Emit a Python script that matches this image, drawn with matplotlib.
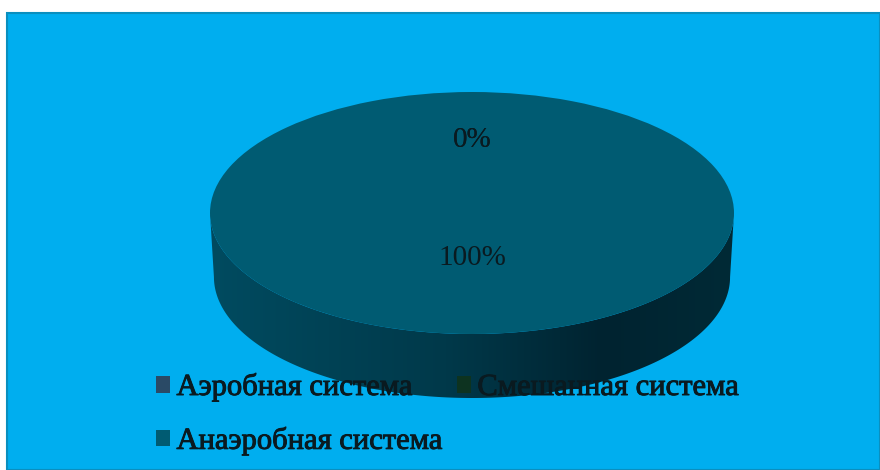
import numpy as np
import matplotlib
matplotlib.use("Agg")
import matplotlib.pyplot as plt
import matplotlib.patheffects as pe
from matplotlib.patches import Rectangle, Polygon, Patch
from matplotlib.colors import LinearSegmentedColormap

# Data
categories = ["Аэробная система", "Смешанная система", "Анаэробная система"]
values = [0, 0, 100]
colors = ["#2a4a66", "#0d3320", "#005b72"]

W, H = 880, 470
fig = plt.figure(figsize=(W / 100, H / 100), dpi=100)
fig.patch.set_facecolor("white")

# Canvas axes in pixel coordinates
base = fig.add_axes([0, 0, 1, 1])
base.set_xlim(0, W)
base.set_ylim(H, 0)
base.axis("off")

# Blue chart area with a thin darker border
base.add_patch(Rectangle((7, 13), W - 7, H - 13, facecolor="#00aeef",
                         edgecolor="#0a8fbf", linewidth=1.5, zorder=0))

# Cylinder geometry (pixels)
cx, cy, a, b, depth = 472, 213, 262, 121, 64

# Side of the cylinder: front half between the top and bottom ellipses
t = np.linspace(0, np.pi, 200)
top_arc = np.column_stack([cx + a * np.cos(t), cy + b * np.sin(t)])
bot_arc = np.column_stack([cx + a * np.cos(t[::-1]) * 0.985, cy + depth + b * np.sin(t[::-1])])
side_poly = np.vstack([top_arc, bot_arc])
side = Polygon(side_poly, closed=True, facecolor="none", edgecolor="none", zorder=1)
base.add_patch(side)
side_cmap = LinearSegmentedColormap.from_list(
    "side", [(0.0, "#004b60"), (0.45, "#00394a"), (0.75, "#002330"), (1.0, "#002a36")])
grad = np.linspace(0, 1, 256)[None, :]
img = base.imshow(grad, cmap=side_cmap, aspect="auto",
                  extent=(cx - a, cx + a, cy + depth + b + 2, cy - 2), zorder=1)
img.set_clip_path(side)

# Top face of the pie, drawn in its own axes stretched to an ellipse
pie_ax = fig.add_axes([(cx - a) / W, 1 - (cy + b) / H, 2 * a / W, 2 * b / H])
pie_ax.set_facecolor("none")
wedges, _, autotexts = pie_ax.pie(
    values, colors=colors, startangle=90, counterclock=False, radius=1,
    autopct="%1.0f%%", pctdistance=0.6,
    textprops=dict(fontsize=21, family="Liberation Serif", color="#0a1a20"),
    wedgeprops=dict(linewidth=0))
pie_ax.set_aspect("auto")
pie_ax.set_xlim(-1, 1)
pie_ax.set_ylim(-1, 1)
pie_ax.axis("off")

# Labels of large slices sit nearer the centre
for v, txt in zip(values, autotexts):
    if v > 50:
        x, y = txt.get_position()
        txt.set_position((x * 0.62, y * 0.62))

# Legend laid out row by row
handles = [Patch(facecolor=c, edgecolor="none") for c in colors]
order = [0, 2, 1]
leg = fig.legend([handles[i] for i in order], [categories[i] for i in order],
                 ncol=2, loc="upper left", bbox_to_anchor=(156 / W, 1 - 372 / H),
                 frameon=False, borderpad=0, borderaxespad=0,
                 handlelength=0.47, handleheight=0.47, handletextpad=0.2,
                 columnspacing=0.5, labelspacing=0.78,
                 prop=dict(family="Liberation Serif", size=22), labelcolor="#0a1a20")
for txt in leg.get_texts():
    txt.set_path_effects([pe.withStroke(linewidth=0.7, foreground="#0a1a20")])

fig.savefig("out.png", dpi=100)
